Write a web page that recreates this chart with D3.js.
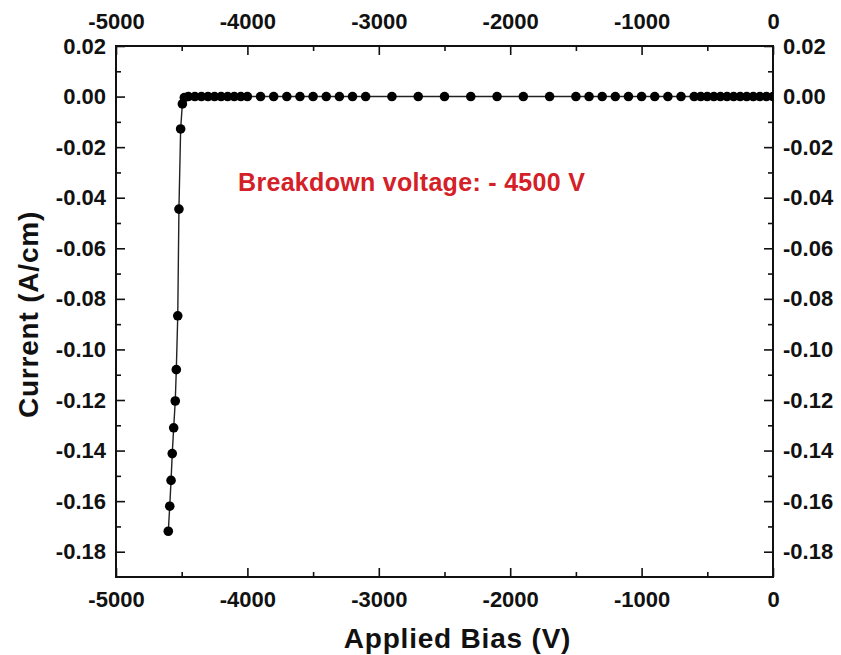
<!DOCTYPE html>
<html>
<head>
<meta charset="utf-8">
<script src="https://cdn.jsdelivr.net/npm/d3@7"></script>
<style>
  html, body { margin: 0; padding: 0; background: #fff; }
  svg { display: block; }
  text { font-family: "Liberation Sans", Arial, sans-serif; }
</style>
</head>
<body>
<svg id="chart" width="841" height="655"></svg>
<script>
// Reverse-bias sweep: applied bias (V) and measured current (A/cm)
const biasV = [
  -4602, -4591, -4581, -4572, -4561, -4549, -4541, -4530, -4521, -4508, -4495, -4480,
  -4450, -4400, -4350, -4300, -4250, -4200, -4150, -4100, -4050, -4000,
  -3900, -3800, -3700, -3600, -3500, -3400, -3300, -3200, -3100,
  -2900, -2700, -2500, -2300, -2100, -1900, -1700,
  -1500, -1400, -1300, -1200, -1100, -1000, -900, -800, -700,
  -600, -550, -500, -450, -400, -350, -300, -250, -200, -150, -100, -50, 0
];
const currentAcm = [
  -0.1719, -0.1620, -0.1518, -0.1412, -0.1310, -0.1204, -0.1080, -0.0867, -0.0445, -0.0128, -0.0029, -0.0004,
  0, 0, 0, 0, 0, 0, 0, 0, 0, 0,
  0, 0, 0, 0, 0, 0, 0, 0, 0,
  0, 0, 0, 0, 0, 0, 0,
  0, 0, 0, 0, 0, 0, 0, 0, 0,
  0, 0, 0, 0, 0, 0, 0, 0, 0, 0, 0, 0, 0
];
const xTicks = [-5000, -4000, -3000, -2000, -1000, 0];
const xMinorTicks = [-4500, -3500, -2500, -1500, -500];
const yTicks = [0.02, 0.00, -0.02, -0.04, -0.06, -0.08, -0.10, -0.12, -0.14, -0.16, -0.18];
const yMinorTicks = [0.01, -0.01, -0.03, -0.05, -0.07, -0.09, -0.11, -0.13, -0.15, -0.17];
const xTitle = "Applied Bias (V)";
const yTitle = "Current (A/cm)";
const noteText = "Breakdown voltage: - 4500 V";
const notePos = { v: -4071, i: -0.0375 };

const W = 841, H = 655;
const margin = { top: 46, right: 68, bottom: 78, left: 116 };
const iw = W - margin.left - margin.right;
const ih = H - margin.top - margin.bottom;

const svg = d3.select("#chart");
const g = svg.append("g").attr("transform", `translate(${margin.left},${margin.top})`);

const x = d3.scaleLinear().domain([-5000, 0]).range([0, iw]);
const y = d3.scaleLinear().domain([-0.19, 0.02]).range([ih, 0]);

svg.append("defs").append("clipPath").attr("id", "plotClip")
  .append("rect").attr("width", iw).attr("height", ih);

const fmtY = d => d3.format(".2f")(d).replace("−", "-");
const fmtX = d => String(d);

function styleAxis(sel) {
  sel.select(".domain").remove();
  sel.selectAll(".tick line").attr("stroke", "#111").attr("stroke-width", 1.6);
  sel.selectAll(".tick text")
    .attr("fill", "#111")
    .style("font-size", "22px")
    .style("font-weight", "bold");
}

const major = 9, minor = 5;

// bottom
g.append("g").attr("transform", `translate(0,${ih})`)
  .call(d3.axisBottom(x).tickValues(xTicks).tickFormat(fmtX).tickSizeInner(-major).tickSizeOuter(0).tickPadding(14))
  .call(styleAxis);
g.append("g").attr("transform", `translate(0,${ih})`)
  .call(d3.axisBottom(x).tickValues(xMinorTicks).tickFormat("").tickSizeInner(-minor).tickSizeOuter(0))
  .call(styleAxis);
// top
g.append("g")
  .call(d3.axisTop(x).tickValues(xTicks).tickFormat(fmtX).tickSizeInner(-major).tickSizeOuter(0).tickPadding(17))
  .call(styleAxis);
g.append("g")
  .call(d3.axisTop(x).tickValues(xMinorTicks).tickFormat("").tickSizeInner(-minor).tickSizeOuter(0))
  .call(styleAxis);
// left
g.append("g")
  .call(d3.axisLeft(y).tickValues(yTicks).tickFormat(fmtY).tickSizeInner(-major).tickSizeOuter(0).tickPadding(10))
  .call(styleAxis);
g.append("g")
  .call(d3.axisLeft(y).tickValues(yMinorTicks).tickFormat("").tickSizeInner(-minor).tickSizeOuter(0))
  .call(styleAxis);
// right
g.append("g").attr("transform", `translate(${iw},0)`)
  .call(d3.axisRight(y).tickValues(yTicks).tickFormat(fmtY).tickSizeInner(-major).tickSizeOuter(0).tickPadding(10))
  .call(styleAxis);
g.append("g").attr("transform", `translate(${iw},0)`)
  .call(d3.axisRight(y).tickValues(yMinorTicks).tickFormat("").tickSizeInner(-minor).tickSizeOuter(0))
  .call(styleAxis);

// frame
g.append("rect").attr("width", iw).attr("height", ih)
  .attr("fill", "none").attr("stroke", "#111").attr("stroke-width", 2);

// data
const pts = biasV.map((v, k) => ({ v, i: currentAcm[k] }));
const plot = g.append("g").attr("clip-path", "url(#plotClip)");
plot.append("path").datum(pts)
  .attr("fill", "none").attr("stroke", "#222").attr("stroke-width", 1.4)
  .attr("d", d3.line().x(d => x(d.v)).y(d => y(d.i)));
plot.selectAll("circle").data(pts).join("circle")
  .attr("cx", d => x(d.v)).attr("cy", d => y(d.i)).attr("r", 4.8)
  .attr("fill", "#000");

// annotation
g.append("text")
  .attr("x", x(notePos.v)).attr("y", y(notePos.i))
  .attr("fill", "#d42027")
  .style("font-size", "25px").style("font-weight", "bold")
  .style("letter-spacing", "0.3px")
  .text(noteText);

// axis titles
svg.append("text")
  .attr("x", margin.left + iw / 2 + 13).attr("y", 648)
  .attr("text-anchor", "middle").attr("fill", "#111")
  .style("font-size", "28px").style("font-weight", "bold")
  .style("letter-spacing", "0.8px")
  .text(xTitle);
svg.append("text")
  .attr("transform", `translate(38,${margin.top + ih / 2 + 3}) rotate(-90)`)
  .attr("text-anchor", "middle").attr("fill", "#111")
  .style("font-size", "28px").style("font-weight", "bold")
  .style("letter-spacing", "0.8px")
  .text(yTitle);
</script>
</body>
</html>
